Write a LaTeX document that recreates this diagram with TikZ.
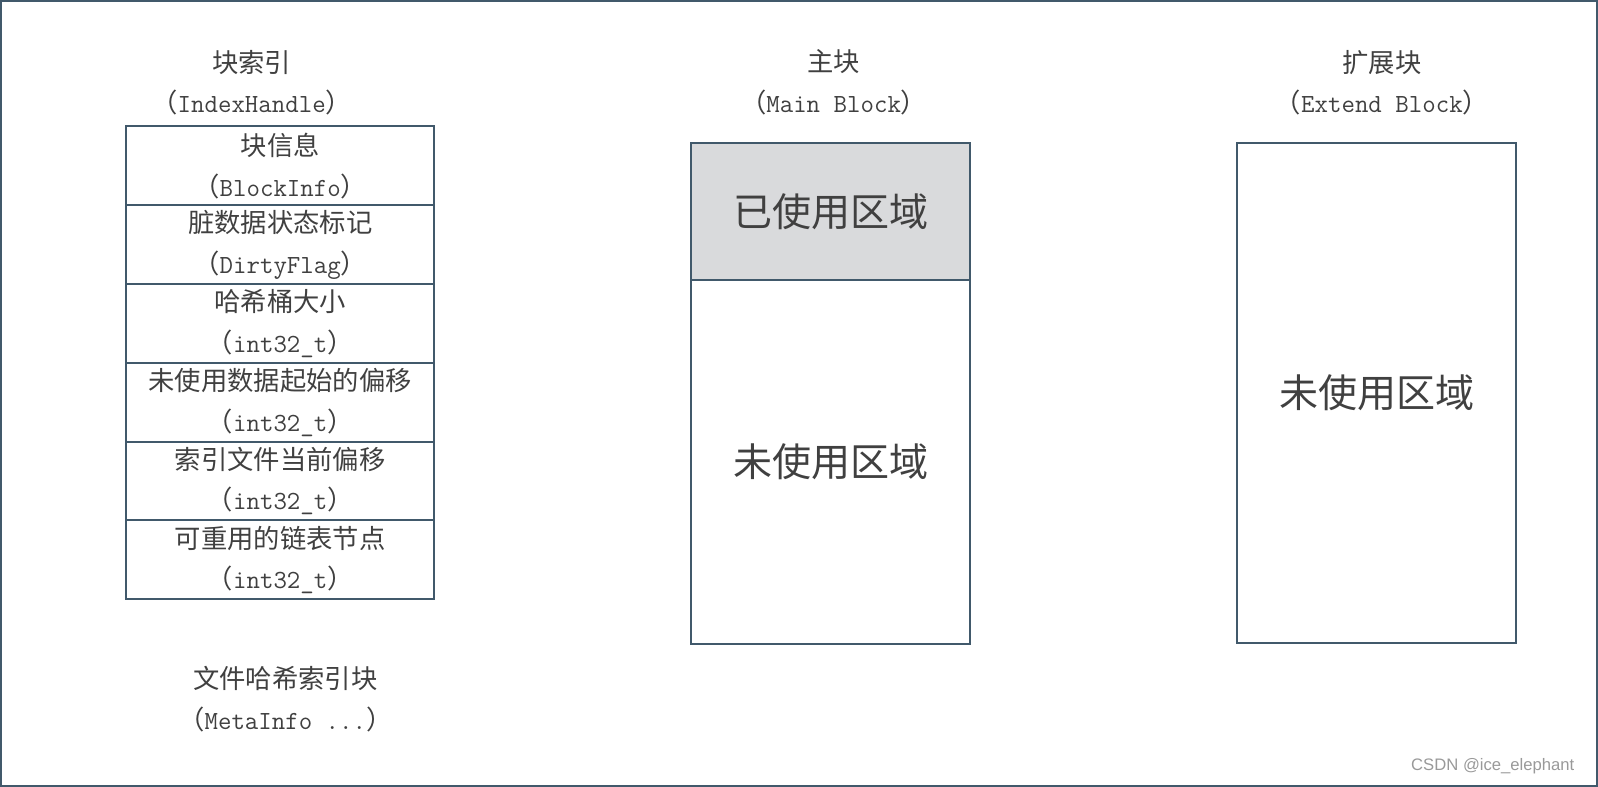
\documentclass[tikz,border=0pt]{standalone}
\usepackage{fontspec}
\usepackage{tikz}
\usetikzlibrary{positioning}
\newfontfamily\cjk{Noto Sans CJK SC}
\setsansfont{Liberation Sans}
\newcommand{\pn}[1]{{\cjk （}{\ttfamily\fontsize{14.6}{22.7}\selectfont #1}{\cjk ）}}
\definecolor{edgecol}{HTML}{41596B}
\definecolor{txtcol}{HTML}{404040}
\definecolor{usedfill}{HTML}{D9DADC}
\tikzset{
  small/.style={text=txtcol, align=center, font=\cjk\fontsize{14.7}{22.7}\selectfont},
  big/.style={text=txtcol, font=\cjk\fontsize{21.8}{26}\selectfont},
  field/.style={small, draw=edgecol, line width=1.1pt, minimum width=6.04cm, minimum height=1.547cm, inner sep=0pt},
  region/.style={draw=edgecol, line width=1.1pt, minimum width=5.48cm, inner sep=0pt}
}
\begin{document}
\begin{tikzpicture}[x=0.02cm, y=-0.02cm]
\useasboundingbox (0,0) rectangle (1568,772);
\draw[edgecol, line width=1.1pt] (1,1) rectangle (1567,771);

% block index
\node[small] (idxtitle) at (247,81) {块索引\\\pn{IndexHandle}};
\foreach [count=\i] \a/\b in {块信息/BlockInfo, 脏数据状态标记/DirtyFlag, 哈希桶大小/int32\_t,
    未使用数据起始的偏移/int32\_t, 索引文件当前偏移/int32\_t, 可重用的链表节点/int32\_t}
  \node[field] (row\i) at (275,{124+77.33*(\i-0.5)}) {\a\\\pn{\b}};
\node[small] (meta) at (280,686) {文件哈希索引块\\\pn{MetaInfo ...}};

% main block
\node[small] (maintitle) at (818,81) {主块\\\pn{Main Block}};
\node[region, fill=usedfill, minimum height=2.7cm, anchor=north] (used) at (815,139) {};
\node[big] at (used) {已使用区域};
\node[region, minimum height=7.14cm, below=-1.1pt of used] (free) {};
\node[big] at (free) {未使用区域};

% extend block
\node[small] (exttitle) at (1356,81) {扩展块\\\pn{Extend Block}};
\node[region, minimum height=9.82cm, anchor=north] (ext) at (1351,139) {};
\node[big] at (ext) {未使用区域};

\node[anchor=east, text=black!40, font=\sffamily\fontsize{9.3}{11}\selectfont] (mark) at (1551,752) {CSDN @ice\_elephant};
\end{tikzpicture}
\end{document}
